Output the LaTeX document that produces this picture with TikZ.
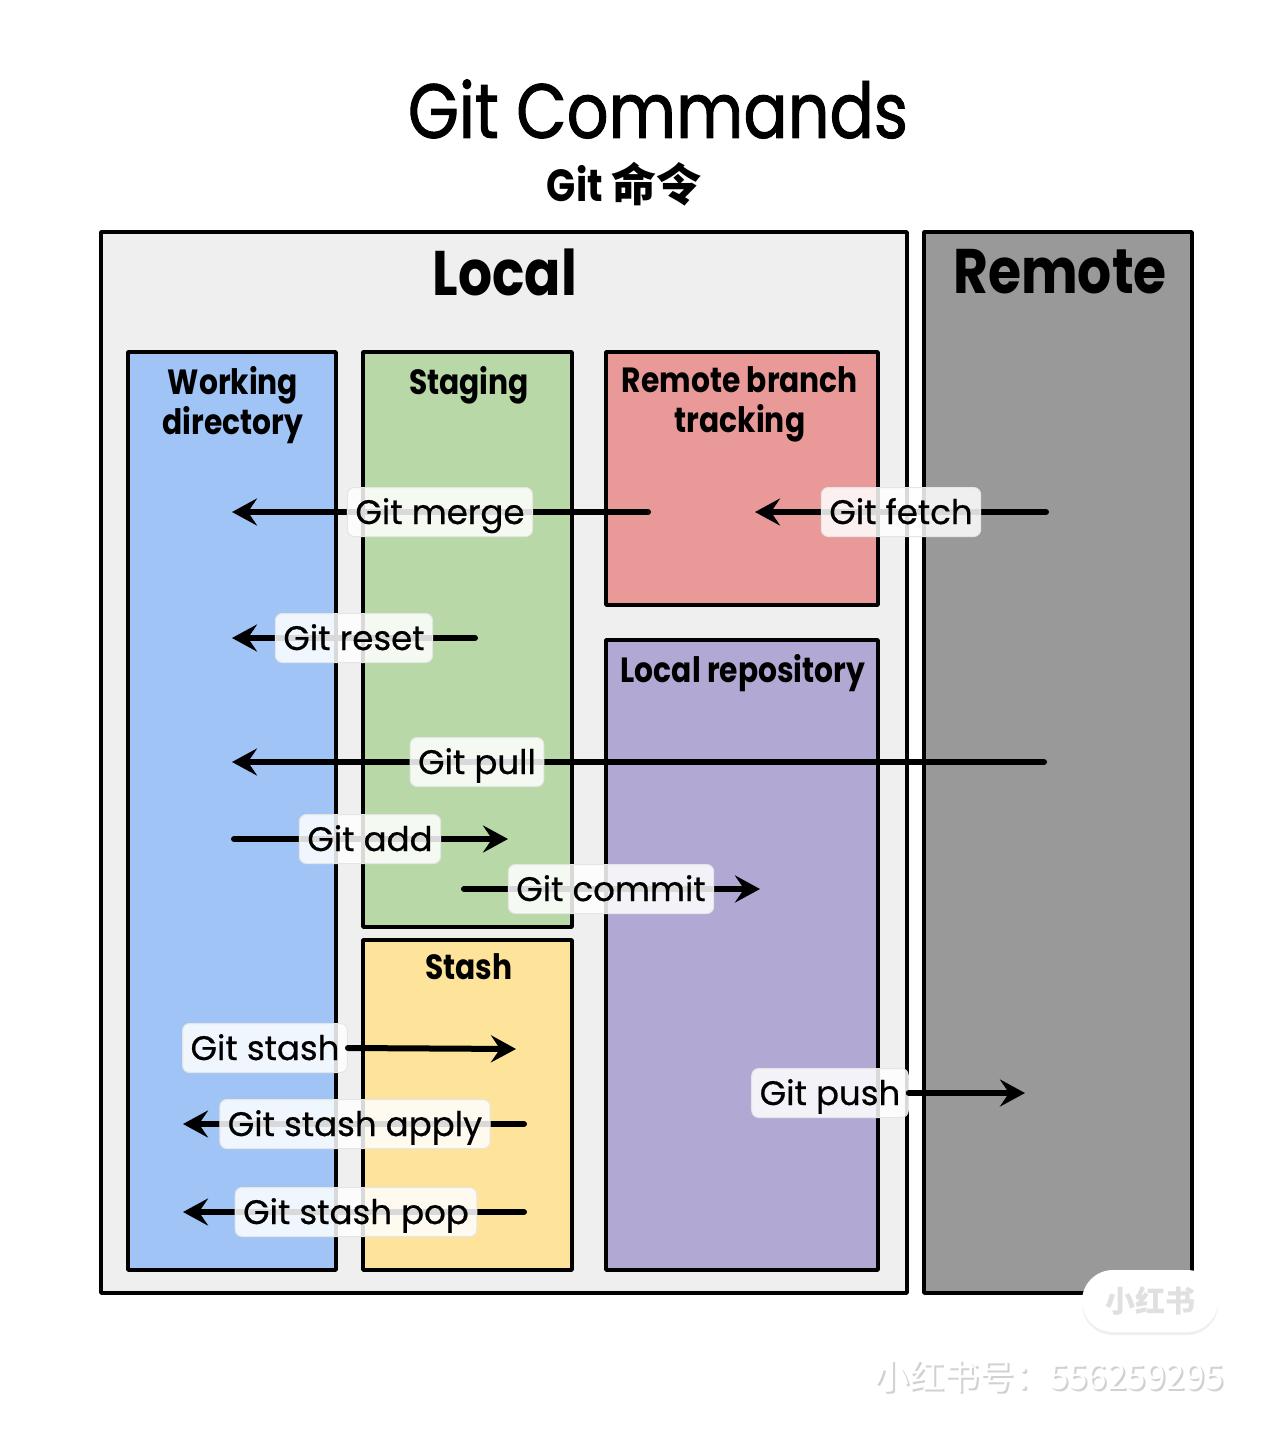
\documentclass[tikz,border=0pt]{standalone}
\usepackage{fontspec}
\setmainfont{Poppins}
\newfontfamily\tfont[FakeStretch=0.85]{Poppins}
\newfontfamily\tfontm[FakeStretch=0.85,FakeBold=1.2]{Poppins}
\newfontfamily\lblfont[FakeBold=0.6]{Poppins}
\newfontfamily\cjk{Noto Sans CJK SC}
\usetikzlibrary{arrows.meta,shadows}
\definecolor{localbg}{HTML}{EFEFEF}
\definecolor{remotebg}{HTML}{999999}
\definecolor{wdblue}{HTML}{A0C4F6}
\definecolor{stgreen}{HTML}{B8D8A8}
\definecolor{styellow}{HTML}{FEE49A}
\definecolor{rbpink}{HTML}{EA9999}
\definecolor{lrpurple}{HTML}{B1A8D4}
\begin{document}
\begin{tikzpicture}[x=1pt,y=-1pt,
  panel/.style={draw=black, line width=3.5pt, line join=round, anchor=north west, inner sep=0pt, outer sep=0pt},
  hdr/.style={font=\tfont\bfseries\fontsize{35}{40}\selectfont, align=center, anchor=north, inner sep=0pt},
  bighdr/.style={font=\tfont\bfseries\fontsize{63}{70}\selectfont, inner sep=0pt},
  lbl/.style={font=\lblfont\fontsize{34}{40}\selectfont, fill=white, fill opacity=0.85, text opacity=1,
    draw=black!10, line width=1pt, rounded corners=7pt, inner xsep=8pt, inner ysep=4.5pt,
    text height=32pt, text depth=8pt},
  arr/.style={line width=6pt, line cap=round, -{Stealth[length=25pt,width=27pt,inset=9pt]}}
]
\useasboundingbox[fill=white] (0,0) rectangle (1280,1433);

% title
\node[font=\tfontm\fontsize{77}{90}\selectfont, inner sep=0pt] (title) at (658,109) {Git Commands};
\node[inner sep=0pt] (subtitle) at (624,184) {\tfont\bfseries\fontsize{45}{50}\selectfont Git {\cjk\bfseries\fontsize{45}{50}\selectfont 命令}};

% big panels
\node[panel, fill=localbg, minimum width=806pt, minimum height=1061pt] (local) at (101,232) {};
\node[panel, fill=remotebg, minimum width=268pt, minimum height=1061pt] (remote) at (924,232) {};
\node[bighdr] (localt) at (505,272) {Local};
\node[bighdr] (remotet) at (1060,272) {Remote};

% areas
\node[panel, fill=wdblue, minimum width=208pt, minimum height=918pt] (wd) at (128,352) {};
\node[panel, fill=stgreen, minimum width=209pt, minimum height=575pt] (stg) at (363,352) {};
\node[panel, fill=styellow, minimum width=209pt, minimum height=330pt] (stash) at (363,940) {};
\node[panel, fill=rbpink, minimum width=272pt, minimum height=253pt] (rbt) at (606,352) {};
\node[panel, fill=lrpurple, minimum width=272pt, minimum height=630pt] (lrepo) at (606,640) {};

\node[hdr] (wdt) at (233,366) {Working\\directory};
\node[hdr] (stgt) at (469,366) {Staging};
\node[hdr] (stasht) at (469,953) {Stash};
\node[hdr] (rbtt) at (740,366) {Remote branch\\tracking};
\node[hdr] (lrepot) at (743,654) {Local repository};

% connector end points
\coordinate (mergeS) at (648,512);  \coordinate (mergeE) at (232,512);
\coordinate (fetchS) at (1046,512); \coordinate (fetchE) at (755,512);
\coordinate (resetS) at (475,638);  \coordinate (resetE) at (232,638);
\coordinate (pullS) at (1044,762);  \coordinate (pullE) at (232,762);
\coordinate (addS) at (234,839);    \coordinate (addE) at (508,839);
\coordinate (commitS) at (464,889); \coordinate (commitE) at (760,889);
\coordinate (stashE) at (516,1049);
\coordinate (applyS) at (524,1124); \coordinate (applyE) at (183,1124);
\coordinate (popS) at (524,1212);   \coordinate (popE) at (183,1212);
\coordinate (pushE) at (1025,1093);

\draw[arr] (mergeS) -- (mergeE);
\draw[arr] (fetchS) -- (fetchE);
\draw[arr] (resetS) -- (resetE);
\draw[arr] (pullS) -- (pullE);
\draw[arr] (addS) -- (addE);
\draw[arr] (commitS) -- (commitE);
\draw[arr] (applyS) -- (applyE);
\draw[arr] (popS) -- (popE);

\node[lbl] (lmerge) at (440,512) {Git merge};
\node[lbl] (lfetch) at (901,512) {Git fetch};
\node[lbl] (lreset) at (354,638) {Git reset};
\node[lbl] (lpull) at (477,762) {Git pull};
\node[lbl] (ladd) at (370,839) {Git add};
\node[lbl] (lcommit) at (611,889) {Git commit};
\node[lbl] (lstash) at (265,1048) {Git stash};
\node[lbl] (lapply) at (355,1124) {Git stash apply};
\node[lbl] (lpop) at (356,1212) {Git stash pop};
\node[lbl] (lpush) at (830,1093) {Git push};

\draw[arr] (lstash.east) -- (stashE);
\draw[arr] (lpush.east) -- (pushE);

% watermark
\node[fill=white, rounded corners=31pt, minimum width=136pt, minimum height=62pt,
  drop shadow={opacity=0.12, shadow xshift=0pt, shadow yshift=-3pt},
  font=\cjk\bfseries\fontsize{30}{34}\selectfont, text=black!12] (pill) at (1150,1301) {小红书};
\node[font=\cjk\fontsize{35}{40}\selectfont, text=black!18, inner sep=0pt] (wmshadow) at (1051,1378) {小红书号：556259295};
\node[font=\cjk\fontsize{35}{40}\selectfont, text=white, inner sep=0pt] (wm) at (1049,1376) {小红书号：556259295};
\end{tikzpicture}
\end{document}
